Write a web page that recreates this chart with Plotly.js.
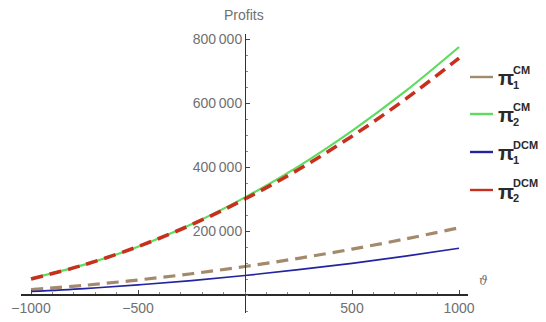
<!DOCTYPE html>
<html>
<head>
<meta charset="utf-8">
<script src="https://cdn.plot.ly/plotly-3.0.1.min.js"></script>
<style>html,body{margin:0;padding:0;background:#fff;}#chart{width:546px;height:322px;}</style>
</head>
<body>
<div id="chart"></div>
<script>
// Data (theta vs profits)
const theta = [-1000, -750, -500, -250, 0, 250, 500, 750, 1000];
const pi1CM  = [17000, 30400, 46900, 66400, 89000, 114700, 143400, 175200, 210000];
const pi2CM  = [52000, 95000, 151000, 221000, 305000, 402000, 513000, 637000, 775000];
const pi1DCM = [11000, 20200, 31600, 45200, 61000, 79000, 99100, 121500, 146000];
const pi2DCM = [50000, 94700, 151300, 219700, 300000, 392200, 496300, 612200, 740000];
const seriesNames = ['π1CM', 'π2CM', 'π1DCM', 'π2DCM'];
const legendSub = ['1', '2', '1', '2'];
const legendSup = ['CM', 'CM', 'DCM', 'DCM'];
const xTickVals = [-1000, -500, 500, 1000];
const xTickText = ['\u22121000', '\u2212500', '500', '1000'];
const yTickVals = [200000, 400000, 600000, 800000];
const yTickText = ['200\u2009000', '400\u2009000', '600\u2009000', '800\u2009000'];

const colors = ['#a48a6c', '#5fdc5f', '#2424a0', '#c8301e'];

// geometry (pixels)
const W = 546, H = 322;
const L = 21, R = 468, T = 34, B = 313;
const PW = R - L, PH = B - T;
const xRange = [-1046.8, 1042];
const yRange = [-56250, 815625];
const px = p => (p - L) / PW;
const py = p => 1 - (p - T) / PH;

const traces = [
  {x: theta, y: pi2CM, name: seriesNames[1], mode: 'lines', line: {color: colors[1], width: 2.2, shape: 'spline'}},
  {x: theta, y: pi2DCM, name: seriesNames[3], mode: 'lines', line: {color: colors[3], width: 3.6, dash: '12px,7px', shape: 'spline'}},
  {x: theta, y: pi1CM, name: seriesNames[0], mode: 'lines', line: {color: colors[0], width: 3.2, dash: '12px,7px', shape: 'spline'}},
  {x: theta, y: pi1DCM, name: seriesNames[2], mode: 'lines', line: {color: colors[2], width: 1.7, shape: 'spline'}}
];

const tickFont = {family: 'Liberation Sans, Arial, sans-serif', size: 14, color: '#707070'};

const shapes = [];
const annotations = [
  {xref: 'paper', yref: 'paper', x: px(244), y: py(15), text: 'Profits', showarrow: false,
   xanchor: 'center', yanchor: 'middle', font: tickFont},
  {xref: 'paper', yref: 'paper', x: px(477), y: py(281), text: '<i>ϑ</i>', showarrow: false,
   xanchor: 'left', yanchor: 'middle', font: {family: 'DejaVu Serif, serif', size: 12, color: '#707070'}}
];
const legendY = [77, 114, 152, 190];
for (let i = 0; i < 4; i++) {
  const y = legendY[i];
  shapes.push({type: 'line', xref: 'paper', yref: 'paper', x0: px(470), x1: px(493), y0: py(y), y1: py(y),
    line: {color: colors[i], width: 2.4}});
  annotations.push({xref: 'paper', yref: 'paper', x: px(496), y: py(y + 1), text: '<b>π</b>', showarrow: false,
    xanchor: 'left', yanchor: 'middle', font: {family: 'Liberation Sans, Arial, sans-serif', size: 21, color: '#2a2a2a'}});
  annotations.push({xref: 'paper', yref: 'paper', x: px(511), y: py(y - 7), text: '<b>' + legendSup[i] + '</b>', showarrow: false,
    xanchor: 'left', yanchor: 'middle', font: {family: 'Liberation Sans, Arial, sans-serif', size: 11, color: '#2a2a2a'}});
  annotations.push({xref: 'paper', yref: 'paper', x: px(511), y: py(y + 8), text: '<b>' + legendSub[i] + '</b>', showarrow: false,
    xanchor: 'left', yanchor: 'middle', font: {family: 'Liberation Sans, Arial, sans-serif', size: 11, color: '#2a2a2a'}});
}

const layout = {
  width: W, height: H,
  margin: {l: L, r: W - R, t: T, b: H - B, pad: 0},
  paper_bgcolor: '#fff', plot_bgcolor: '#fff',
  showlegend: false,
  xaxis: {
    range: xRange, anchor: 'free', position: (0 - yRange[0]) / (yRange[1] - yRange[0]),
    showgrid: false, zeroline: false, showline: true, linecolor: '#2a2a2a', linewidth: 2,
    ticks: 'inside', ticklen: 4, tickwidth: 1, tickcolor: '#444',
    tickvals: xTickVals, ticktext: xTickText, tickfont: tickFont,
    minor: {ticks: 'inside', ticklen: 2, tickcolor: '#888', dtick: 100, showgrid: false},
    fixedrange: true
  },
  yaxis: {
    range: yRange, anchor: 'free', position: (0 - xRange[0]) / (xRange[1] - xRange[0]),
    showgrid: false, zeroline: false, showline: true, linecolor: '#333', linewidth: 1,
    ticks: 'inside', ticklen: 4, tickwidth: 1, tickcolor: '#444',
    tickvals: yTickVals, ticktext: yTickText, tickfont: tickFont,
    minor: {ticks: 'inside', ticklen: 2, tickcolor: '#888', dtick: 50000, showgrid: false},
    fixedrange: true
  },
  shapes: shapes,
  annotations: annotations
};

Plotly.newPlot('chart', traces, layout, {staticPlot: true, displayModeBar: false});
</script>
</body>
</html>
